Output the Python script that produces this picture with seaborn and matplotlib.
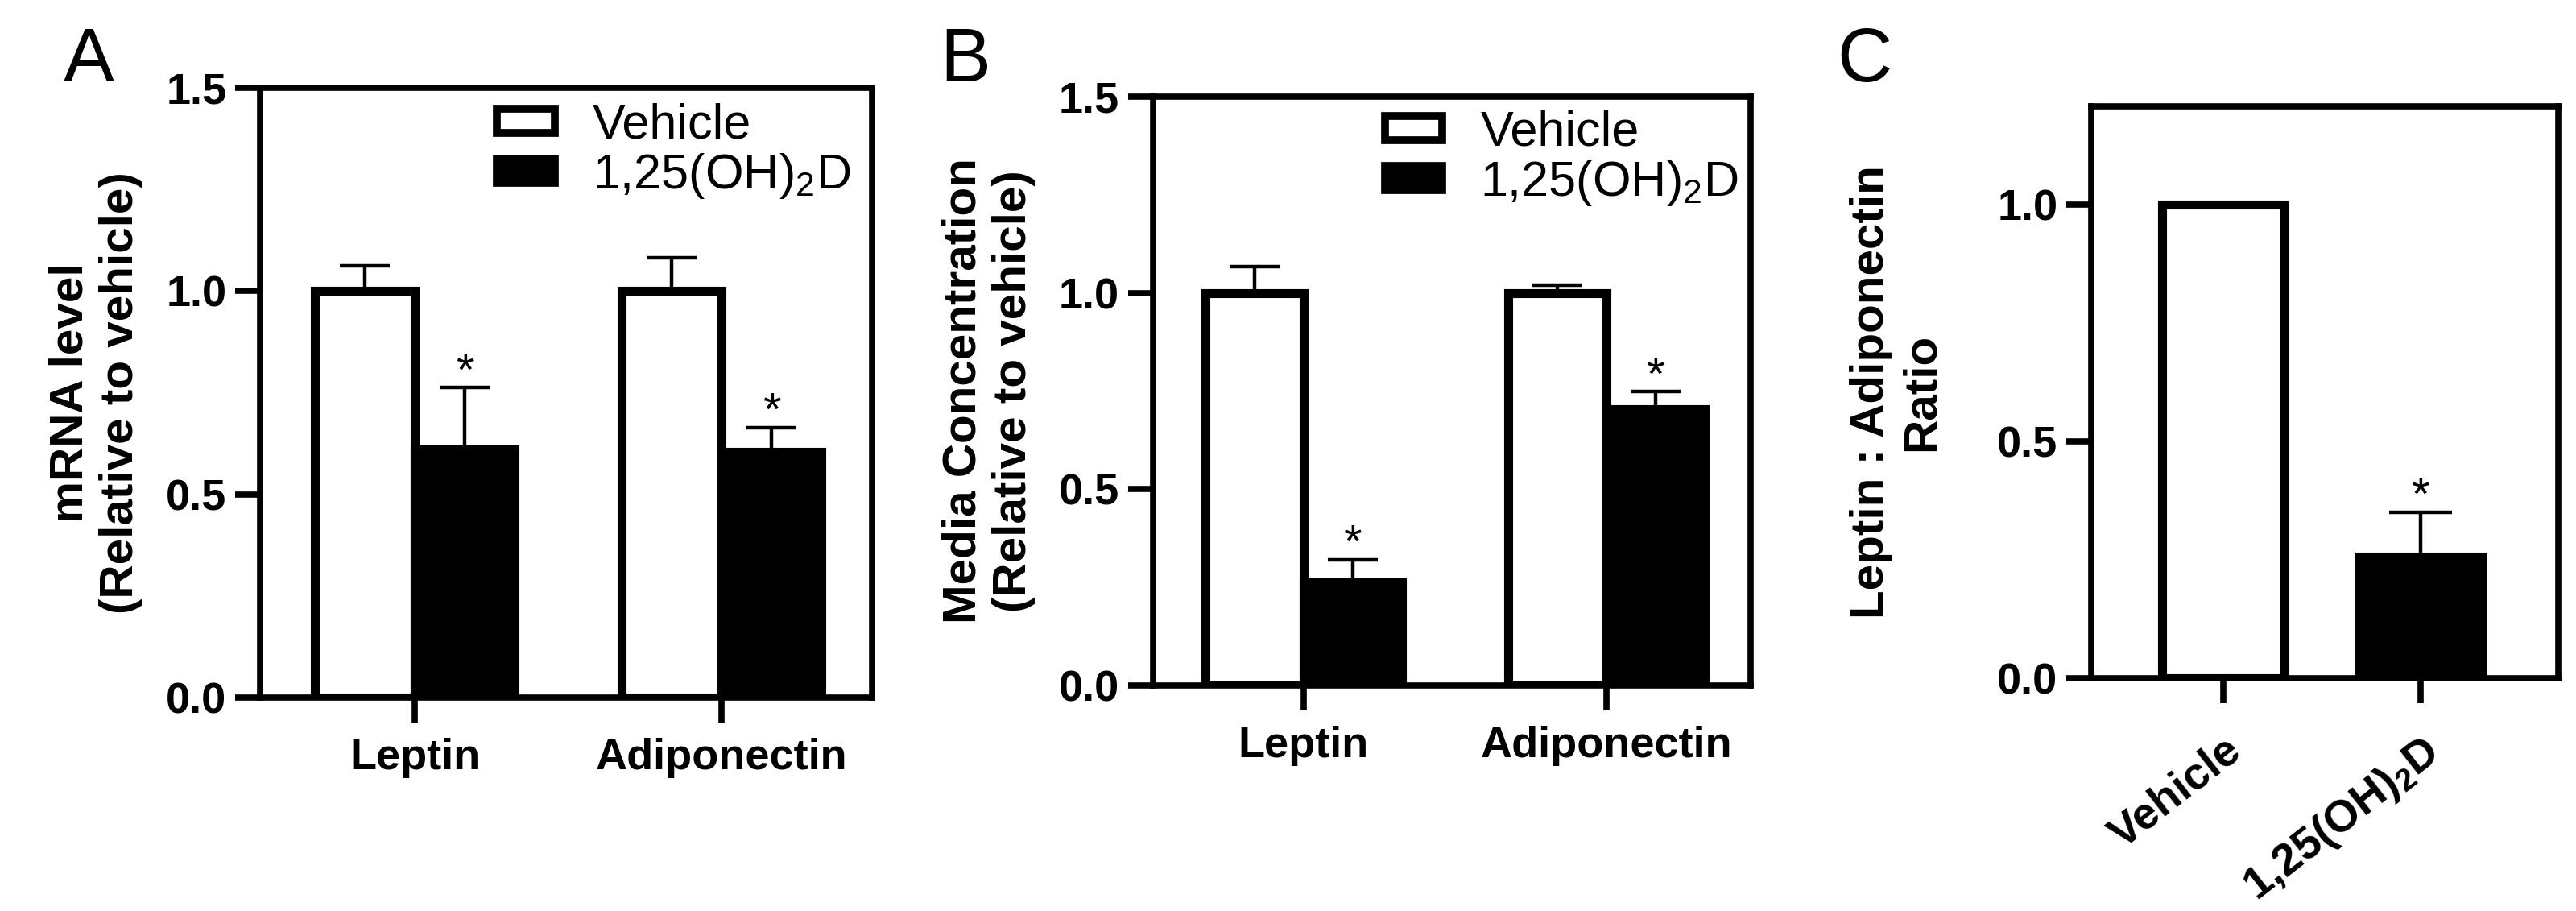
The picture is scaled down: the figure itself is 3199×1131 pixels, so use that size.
import matplotlib
matplotlib.use("Agg")
import matplotlib.pyplot as plt
from matplotlib.patches import Patch
import pandas as pd
import seaborn as sns

genes = ["Leptin", "Adiponectin"]
groups = ["Vehicle", "1,25(OH)$_2$D"]

# panel A: mRNA level (relative to vehicle)
mrna_mean = {"Vehicle": [1.0, 1.0], "1,25(OH)$_2$D": [0.611, 0.605]}
mrna_err = {"Vehicle": [0.062, 0.082], "1,25(OH)$_2$D": [0.151, 0.059]}

# panel B: media concentration (relative to vehicle)
media_mean = {"Vehicle": [1.0, 1.0], "1,25(OH)$_2$D": [0.262, 0.704]}
media_err = {"Vehicle": [0.067, 0.019], "1,25(OH)$_2$D": [0.059, 0.044]}

# panel C: leptin : adiponectin ratio
ratio_mean = [1.0, 0.256]
ratio_err = [0.0, 0.095]
ratio_star = [False, True]

sns.set_style("ticks")
plt.rcParams["font.family"] = ["Liberation Sans", "DejaVu Sans"]
plt.rcParams["mathtext.fontset"] = "custom"
plt.rcParams["mathtext.rm"] = "Liberation Sans"
plt.rcParams["mathtext.bf"] = "Liberation Sans:bold"
plt.rcParams["mathtext.default"] = "regular"
for key in ["text.color", "axes.edgecolor", "axes.labelcolor", "xtick.color", "ytick.color"]:
    plt.rcParams[key] = "black"

colors = {"Vehicle": "white", "1,25(OH)$_2$D": "black"}
EDGE = 8
SPINE = 5.5
TICK_FS = 39


def long_frame(means):
    rows = []
    for g in groups:
        for gene, v in zip(genes, means[g]):
            rows.append({"gene": gene, "group": g, "value": v})
    return pd.DataFrame(rows)


def style_axes(ax, ymax, yticks):
    ax.set_ylim(0, ymax)
    ax.set_yticks(yticks)
    ax.set_yticklabels([f"{t:.1f}" for t in yticks])
    for s in ax.spines.values():
        s.set_linewidth(SPINE)
        s.set_color("black")
        s.set_visible(True)
    ax.tick_params(axis="both", direction="out", length=22, width=SPINE,
                   labelsize=TICK_FS, pad=8, colors="black")
    ax.tick_params(axis="x", pad=14)
    for lab in ax.get_xticklabels() + ax.get_yticklabels():
        lab.set_fontweight("bold")
    ax.set_xlabel("")


def add_errors(ax, errs, stars, capsize):
    for cont, err, star in zip(ax.containers, errs, stars):
        for patch, e, s in zip(cont.patches, err, star):
            x = patch.get_x() + patch.get_width() / 2
            h = patch.get_height()
            if e > 0:
                ax.errorbar(x, h, yerr=[[0], [e]], fmt="none", ecolor="black",
                            elinewidth=3.2, capsize=capsize, capthick=3.2, zorder=1)
            if s:
                ax.annotate("*", xy=(x, h + e), xytext=(0, 2), textcoords="offset points",
                            ha="center", va="baseline", fontsize=42, color="black")


def grouped_panel(ax, means, errs, ylabel, xlim, label_x, legend_xy):
    df = long_frame(means)
    sns.barplot(data=df, x="gene", y="value", hue="group", hue_order=groups,
                palette=colors, edgecolor="black", linewidth=EDGE, width=0.65,
                saturation=1, errorbar=None, legend=False, ax=ax)
    add_errors(ax, [errs[g] for g in groups],
               [[False, False], [True, True]], capsize=22)
    ax.set_xlim(*xlim)
    style_axes(ax, 1.5, [0.0, 0.5, 1.0, 1.5])
    ax.set_ylabel(ylabel, fontsize=42, fontweight="bold", linespacing=1.2)
    ax.yaxis.set_label_coords(label_x, 0.5)
    handles = [Patch(facecolor=colors[g], edgecolor="black", linewidth=7) for g in groups]
    ax.legend(handles, groups, loc="upper left", bbox_to_anchor=legend_xy,
              frameon=False, fontsize=44, handlelength=1.17, handleheight=0.36,
              handletextpad=0.77, labelspacing=0.05, borderpad=0, borderaxespad=0)


fig = plt.figure(figsize=(31.99, 11.31), dpi=100)
ax_a = fig.add_axes([0.1010, 0.2343, 0.2376, 0.6693])
ax_b = fig.add_axes([0.4476, 0.2476, 0.2319, 0.6463])
ax_c = fig.add_axes([0.8118, 0.2555, 0.1813, 0.6278])

grouped_panel(ax_a, mrna_mean, mrna_err, "mRNA level\n(Relative to vehicle)",
              (-0.504, 1.491), -0.192, (0.387, 0.975))
grouped_panel(ax_b, media_mean, media_err, "Media Concentration\n(Relative to vehicle)",
              (-0.497, 1.476), -0.197, (0.388, 0.977))

sns.barplot(x=groups, y=ratio_mean, hue=groups, palette=colors, edgecolor="black",
            linewidth=EDGE, width=0.62, saturation=1, errorbar=None, legend=False, ax=ax_c)
add_errors(ax_c, [[e] for e in ratio_err], [[s] for s in ratio_star], capsize=28)
ax_c.set_xlim(-0.669, 1.698)
style_axes(ax_c, 1.207, [0.0, 0.5, 1.0])
ax_c.tick_params(axis="x", pad=24)
for lab in ax_c.get_xticklabels():
    lab.set_rotation(38)
    lab.set_ha("right")
    lab.set_va("top")
    lab.set_rotation_mode("anchor")
    lab.set_fontsize(40)
ax_c.set_ylabel("Leptin : Adiponectin\nRatio", fontsize=42, fontweight="bold", linespacing=1.2)
ax_c.yaxis.set_label_coords(-0.316, 0.5)

fig.text(0.0247, 0.9107, "A", fontsize=68, va="baseline")
fig.text(0.3648, 0.9107, "B", fontsize=68, va="baseline")
fig.text(0.7130, 0.9107, "C", fontsize=68, va="baseline")

fig.savefig("out.png", dpi=100)
